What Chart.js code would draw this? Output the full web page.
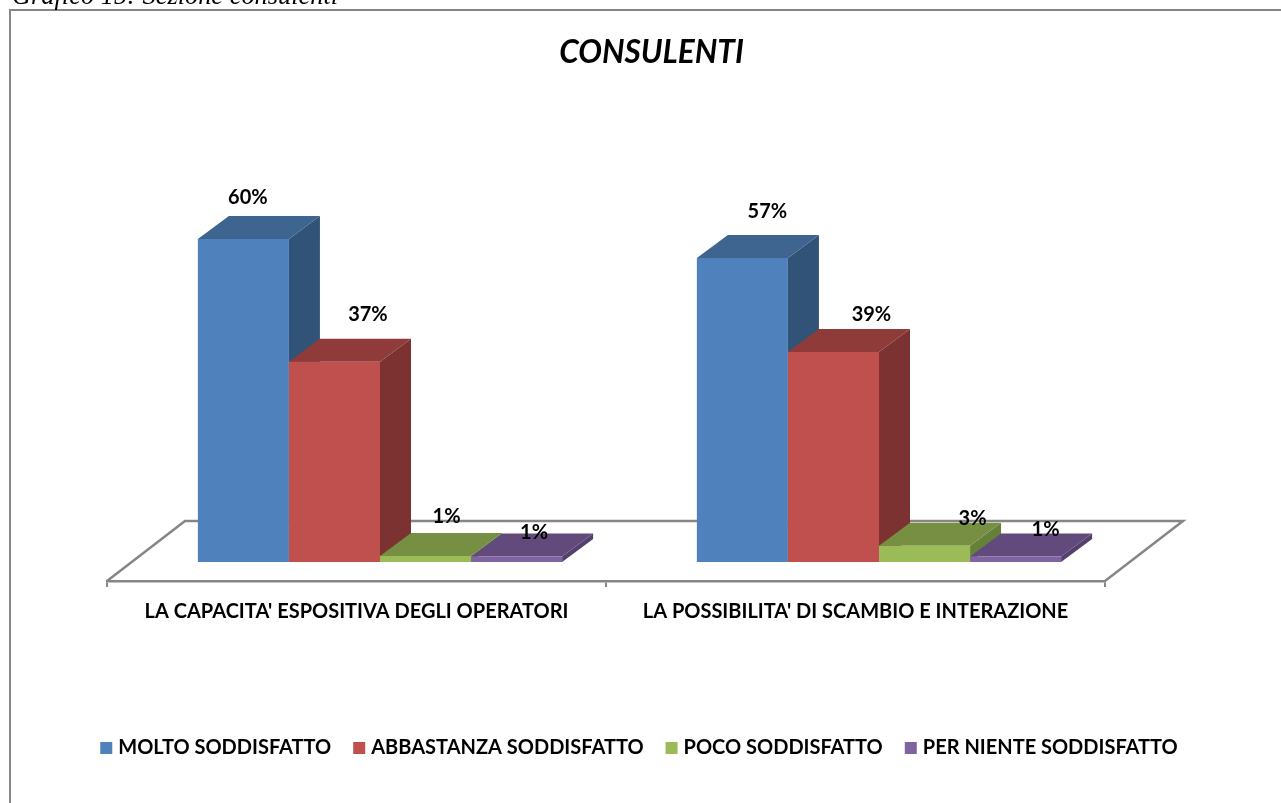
<!DOCTYPE html>
<html>
<head>
<meta charset="utf-8">
<title>Consulenti</title>
<script src="https://cdn.jsdelivr.net/npm/chart.js@4/dist/chart.umd.min.js"></script>
<style>
    html, body { margin: 0; padding: 0; background: #fff; overflow: hidden; }
    #wrap { position: relative; width: 1281px; height: 803px; overflow: hidden; }
    #caption { position: absolute; left: 12px; top: -20px; font: italic 26.4px "Liberation Serif", serif; color: #000; white-space: nowrap; }
</style>
</head>
<body>
<div id="wrap">
    <canvas id="consulenti-chart" width="1281" height="803"></canvas>
    <div id="caption">Grafico 15: Sezione consulenti</div>
</div>
<script>
    //---------------------------------------------------------------------------------------------
    // - DATA -------------------------------------------------------------------------------------
    //---------------------------------------------------------------------------------------------

    var categories = ["LA CAPACITA' ESPOSITIVA DEGLI OPERATORI", "LA POSSIBILITA' DI SCAMBIO E INTERAZIONE"];
    var molto = [60, 56.5];
    var abbastanza = [37.2, 39];
    var poco = [1.1, 3];
    var per_niente = [1, 1];
    var series_names = ["MOLTO SODDISFATTO", "ABBASTANZA SODDISFATTO", "POCO SODDISFATTO", "PER NIENTE SODDISFATTO"];

    //---------------------------------------------------------------------------------------------
    // - STYLE ------------------------------------------------------------------------------------
    //---------------------------------------------------------------------------------------------

    var font_name = "Lato";
    var axis_grey = "#868686";
    var front_colors = ["#4f81bd", "#c0504d", "#9bbb59", "#8064a2"];
    var top_colors = ["#3e6490", "#8f3b3a", "#768f42", "#624b7c"];
    var side_colors = ["#325378", "#7b3231", "#66803a", "#54406c"];

    // the bars stand inside the floor, and depth is faked with a skew
    var bar_shift = { x: 23.5, y: -19 };
    var bar_depth = { x: 31, y: 23 };
    var floor_depth = { x: 78, y: 60 };

    // labels were moved by hand in the original, [dataset][category], from the bar top centre
    var label_shift = [
        [[4.5, -42], [25, -46]],
        [[33.5, -47], [38, -38]],
        [[21, -40], [48, -27]],
        [[17.5, -24], [30, -27]]
    ];

    //---------------------------------------------------------------------------------------------
    // - PLUGIN -----------------------------------------------------------------------------------
    //---------------------------------------------------------------------------------------------

    function fill_shape(ctx, color, points) {
        ctx.fillStyle = color;
        ctx.beginPath();
        ctx.moveTo(points[0][0], points[0][1]);
        for (var i = 1; i < points.length; i++) {
            ctx.lineTo(points[i][0], points[i][1]);
        }
        ctx.closePath();
        ctx.fill();
    }

    var bars_3d_plugin = {
        id: 'bars3d',
        beforeDraw: function (chart) {
            var ctx = chart.ctx;
            ctx.save();
            ctx.strokeStyle = axis_grey;
            ctx.lineWidth = 2;
            ctx.strokeRect(10, 10, chart.width + 20, chart.height + 20);
            ctx.restore();
        },
        afterLayout: function (chart) {
            // legend sits a little left of the title
            chart.legend.left -= 21;
        },
        beforeDatasetsDraw: function (chart) {
            var ctx = chart.ctx;
            var area = chart.chartArea;

            // floor
            ctx.save();
            ctx.strokeStyle = axis_grey;
            ctx.lineWidth = 2.5;
            ctx.beginPath();
            ctx.moveTo(area.left, area.bottom);
            ctx.lineTo(area.left + floor_depth.x, area.bottom - floor_depth.y);
            ctx.lineTo(area.right + floor_depth.x, area.bottom - floor_depth.y);
            ctx.lineTo(area.right, area.bottom);
            ctx.stroke();
            ctx.restore();

            // top and side faces, the front faces come from chart.js right after this
            ctx.save();
            ctx.translate(bar_shift.x, bar_shift.y);
            chart.data.datasets.forEach(function (dataset, d) {
                chart.getDatasetMeta(d).data.forEach(function (bar) {
                    var l = bar.x - bar.width / 2;
                    var r = bar.x + bar.width / 2;
                    var t = bar.y;
                    var b = bar.base;
                    fill_shape(ctx, side_colors[d], [[r, t], [r + bar_depth.x, t - bar_depth.y], [r + bar_depth.x, b - bar_depth.y], [r, b]]);
                    fill_shape(ctx, top_colors[d], [[l, t], [l + bar_depth.x, t - bar_depth.y], [r + bar_depth.x, t - bar_depth.y], [r, t]]);
                });
            });
            ctx.restore();

            ctx.save();
            ctx.translate(bar_shift.x, bar_shift.y);
        },
        afterDatasetsDraw: function (chart) {
            var ctx = chart.ctx;
            ctx.restore();

            // value labels
            ctx.save();
            ctx.translate(bar_shift.x, bar_shift.y);
            ctx.font = "bold 20px " + font_name;
            ctx.fillStyle = "#000";
            ctx.textAlign = "center";
            ctx.textBaseline = "middle";
            chart.data.datasets.forEach(function (dataset, d) {
                chart.getDatasetMeta(d).data.forEach(function (bar, c) {
                    var shift = label_shift[d][c];
                    ctx.fillText(Math.round(dataset.data[c]) + "%", bar.x + shift[0], bar.y + shift[1]);
                });
            });
            ctx.restore();
        }
    };

    //---------------------------------------------------------------------------------------------
    // - CHART ------------------------------------------------------------------------------------
    //---------------------------------------------------------------------------------------------

    var chart_data = {
        labels: categories,
        datasets: [
            { label: series_names[0], data: molto, backgroundColor: front_colors[0] },
            { label: series_names[1], data: abbastanza, backgroundColor: front_colors[1] },
            { label: series_names[2], data: poco, backgroundColor: front_colors[2] },
            { label: series_names[3], data: per_niente, backgroundColor: front_colors[3] }
        ]
    };

    var chart_config = {
        type: 'bar',
        data: chart_data,
        plugins: [bars_3d_plugin],
        options: {
            responsive: false,
            animation: false,
            categoryPercentage: 0.73,
            barPercentage: 1,
            layout: { padding: { left: 22, right: 0, top: 0, bottom: 35 } },
            plugins: {
                tooltip: { enabled: false },
                title: {
                    display: true,
                    text: 'CONSULENTI',
                    color: '#000',
                    font: { family: font_name, size: 31.5, weight: 'bold', style: 'italic' },
                    padding: { top: 33.5, bottom: 133 }
                },
                legend: {
                    position: 'bottom',
                    labels: {
                        color: '#000',
                        font: { family: font_name, size: 20, weight: 'bold' },
                        boxWidth: 4,
                        boxHeight: 4,
                        padding: 26,
                        generateLabels: function (chart) {
                            return chart.data.datasets.map(function (dataset, i) {
                                return {
                                    text: dataset.label,
                                    fontColor: '#000',
                                    fillStyle: front_colors[i],
                                    strokeStyle: front_colors[i],
                                    lineWidth: 8,
                                    datasetIndex: i
                                };
                            });
                        }
                    }
                }
            },
            scales: {
                x: {
                    offset: true,
                    grid: { offset: true, drawOnChartArea: false, color: axis_grey, lineWidth: 2, tickLength: 6 },
                    border: { color: axis_grey, width: 2.5 },
                    ticks: {
                        color: '#000',
                        maxRotation: 0,
                        autoSkip: false,
                        padding: 13,
                        font: { family: font_name, size: 20, weight: 'bold' }
                    },
                    afterFit: function (scale) { scale.height = 131; }
                },
                y: {
                    min: 0,
                    max: 70,
                    grid: { display: false },
                    border: { display: false },
                    ticks: { display: false },
                    afterFit: function (scale) { scale.width = 85; }
                },
                spacer: {
                    position: 'right',
                    min: 0,
                    max: 70,
                    grid: { display: false },
                    border: { display: false },
                    ticks: { display: false },
                    afterFit: function (scale) { scale.width = 176; }
                }
            }
        }
    };

    var chart_ctx = document.getElementById("consulenti-chart").getContext("2d");

    new Chart(chart_ctx, chart_config);
</script>
</body>
</html>
